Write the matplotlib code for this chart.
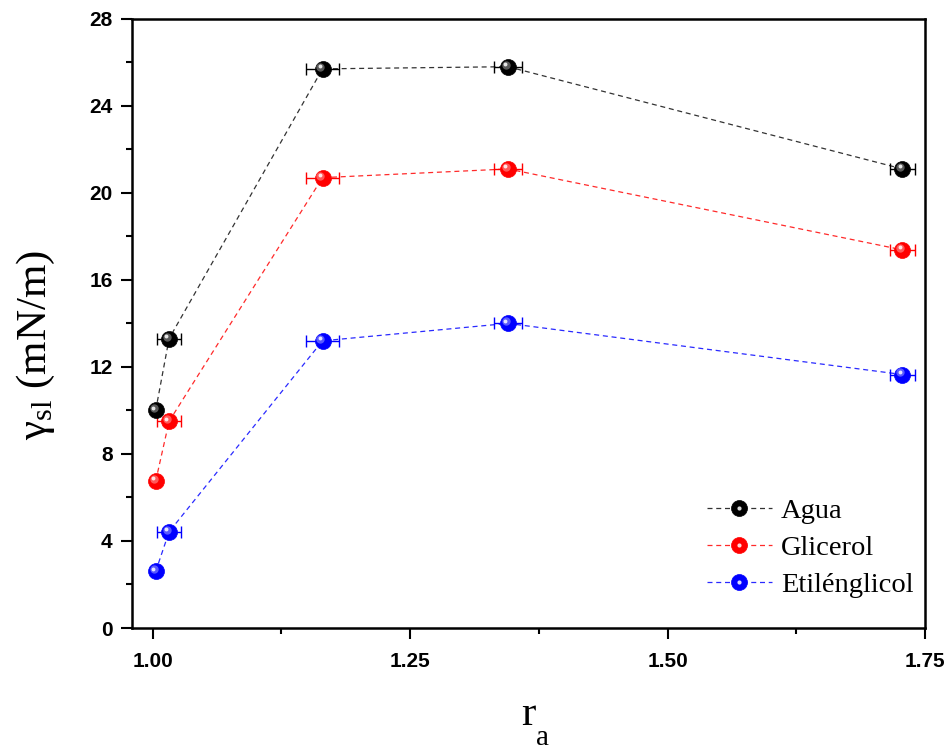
import matplotlib
matplotlib.use("Agg")
import matplotlib.pyplot as plt
import matplotlib.transforms as mtransforms
from matplotlib.legend_handler import HandlerTuple
from matplotlib import font_manager

# Aspect ratio r_a of each sample
ra = [1.003, 1.016, 1.165, 1.345, 1.728]
ra_err = [0.0, 0.012, 0.016, 0.014, 0.012]

# Solid-liquid interfacial tension (mN/m) for each liquid
agua = [10.0, 13.3, 25.7, 25.8, 21.1]
glicerol = [6.75, 9.5, 20.7, 21.1, 17.38]
etilenglicol = [2.6, 4.42, 13.2, 14.0, 11.65]

series = [
    ("Agua", agua, "#000000", "#333333"),
    ("Glicerol", glicerol, "#ff0000", "#ff2a2a"),
    ("Etilénglicol", etilenglicol, "#0000ff", "#2a2aff"),
]

xticks = [1.00, 1.25, 1.50, 1.75]
xtick_labels = ["1.00", "1.25", "1.50", "1.75"]
yticks = [0, 4, 8, 12, 16, 20, 24, 28]

serif = "Liberation Serif"
names = {f.name for f in font_manager.fontManager.ttflist}
tick_font = "Liberation Sans Narrow" if "Liberation Sans Narrow" in names else "Liberation Sans"

plt.rcParams["mathtext.fontset"] = "custom"
plt.rcParams["mathtext.rm"] = serif

fig = plt.figure(figsize=(9.51, 7.53), dpi=100)
ax = fig.add_axes([0.1388, 0.166, 0.834, 0.809])

handles = []
for name, vals, color, linecolor in series:
    ax.plot(ra, vals, linestyle=(0, (4, 3)), color=linecolor, lw=0.9, zorder=2)
    ax.errorbar(ra, vals, xerr=ra_err, fmt="none", ecolor=color, elinewidth=1.0,
                capsize=4.6, capthick=1.0, zorder=3)
    ax.plot(ra, vals, "o", ms=11.5, color=color, mec=color, mew=0.5, zorder=4)
    # specular highlight to give the markers a glossy look
    off1 = mtransforms.offset_copy(ax.transData, fig=fig, x=-1.5, y=1.5, units="points")
    off2 = mtransforms.offset_copy(ax.transData, fig=fig, x=-2.0, y=2.0, units="points")
    ax.plot(ra, vals, "o", ms=6, color="white", alpha=0.35, mew=0,
            transform=off1, zorder=5)
    ax.plot(ra, vals, "o", ms=2.8, color="white", alpha=0.85, mew=0,
            transform=off2, zorder=6)
    leg_line, = ax.plot([], [], linestyle=(0, (4, 3)), color=linecolor, lw=0.9)
    leg_m, = ax.plot([], [], "o", ms=11.5, color=color, mec=color, mew=0.5)
    leg_h, = ax.plot([], [], "o", ms=3, color="white", alpha=0.85, mew=0)
    handles.append(((leg_line, leg_m, leg_h), name))

ax.set_xlim(0.98, 1.75)
ax.set_ylim(0, 28)
ax.set_xticks(xticks)
ax.set_xticklabels(xtick_labels)
ax.set_xticks([1.125, 1.375, 1.625], minor=True)
ax.set_yticks(yticks)
ax.set_yticks([2, 6, 10, 14, 18, 22, 26], minor=True)

for lab in ax.get_xticklabels() + ax.get_yticklabels():
    lab.set_fontfamily(tick_font)
    lab.set_fontweight("bold")
    lab.set_fontsize(15)

ax.tick_params(which="major", direction="out", length=8, width=1.5, pad=6)
ax.tick_params(axis="x", which="major", pad=9)
ax.tick_params(which="minor", direction="out", length=4.5, width=1.5)
ax.tick_params(top=False, right=False)
for s in ax.spines.values():
    s.set_linewidth(1.8)

# x label: "r" with a deep subscript "a"
ax.set_xlabel("r", fontfamily=serif, fontsize=31, labelpad=18)
ax.annotate("a", xy=(1.0, 0.0), xycoords=ax.xaxis.label, xytext=(0.5, -3),
            textcoords="offset points", ha="left", va="center",
            fontfamily=serif, fontsize=21)

ax.set_ylabel(r"γ$_{\mathregular{sl}}$ (mN/m)", fontfamily=serif, fontsize=31)
ax.yaxis.set_label_coords(-0.094, 0.465)

leg = ax.legend([h for h, _ in handles], [n for _, n in handles],
                handler_map={tuple: HandlerTuple(ndivide=1, pad=0)},
                loc="lower right", bbox_to_anchor=(0.985, 0.05), frameon=False,
                prop={"family": serif, "size": 20.5}, handlelength=2.3,
                handletextpad=0.3, labelspacing=0.38, borderpad=0,
                borderaxespad=0)

fig.savefig("out.png", dpi=100)
